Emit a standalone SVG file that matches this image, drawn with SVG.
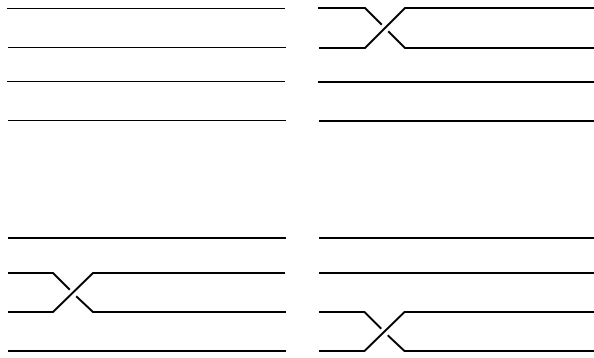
<svg xmlns="http://www.w3.org/2000/svg" width="594" height="358" viewBox="0 0 594 358">
<style>
.thin{fill:none;stroke:#000;stroke-width:1.2}
.w{fill:none;stroke:#000;stroke-width:2;stroke-linecap:butt;stroke-linejoin:miter}
</style>
<rect width="594" height="358" fill="#fff"/>
<g id="panel-identity">
<line class="thin" x1="7" y1="8.5" x2="285" y2="8.5"/>
<line class="thin" x1="8" y1="47.5" x2="286" y2="47.5"/>
<line class="thin" x1="7" y1="81.5" x2="285" y2="81.5"/>
<line class="thin" x1="8" y1="120.5" x2="286" y2="120.5"/>
</g>
<g id="panel-cross12">
<path class="w" d="M318,8 H365 L381.8,24.8"/>
<path class="w" d="M388.2,31.2 L405,48 H594"/>
<path class="w" d="M319,48 H365 L405,8 H594"/>
<line class="w" x1="318" y1="82" x2="594" y2="82"/>
<line class="w" x1="319" y1="121" x2="594" y2="121"/>
</g>
<g id="panel-cross23">
<line class="w" x1="8" y1="238" x2="286" y2="238"/>
<path class="w" d="M8,273 H53 L69.8,289.8"/>
<path class="w" d="M76.2,296.2 L93,312 H286"/>
<path class="w" d="M8,312 H53 L93,273 H285"/>
<line class="w" x1="8" y1="351" x2="286" y2="351"/>
</g>
<g id="panel-cross34">
<line class="w" x1="319" y1="238" x2="594" y2="238"/>
<line class="w" x1="319" y1="273" x2="594" y2="273"/>
<path class="w" d="M319,312 H364.5 L381.3,328.8"/>
<path class="w" d="M387.7,335.2 L404.5,351 H594"/>
<path class="w" d="M319,351 H364.5 L404.5,312 H594"/>
</g>
</svg>
